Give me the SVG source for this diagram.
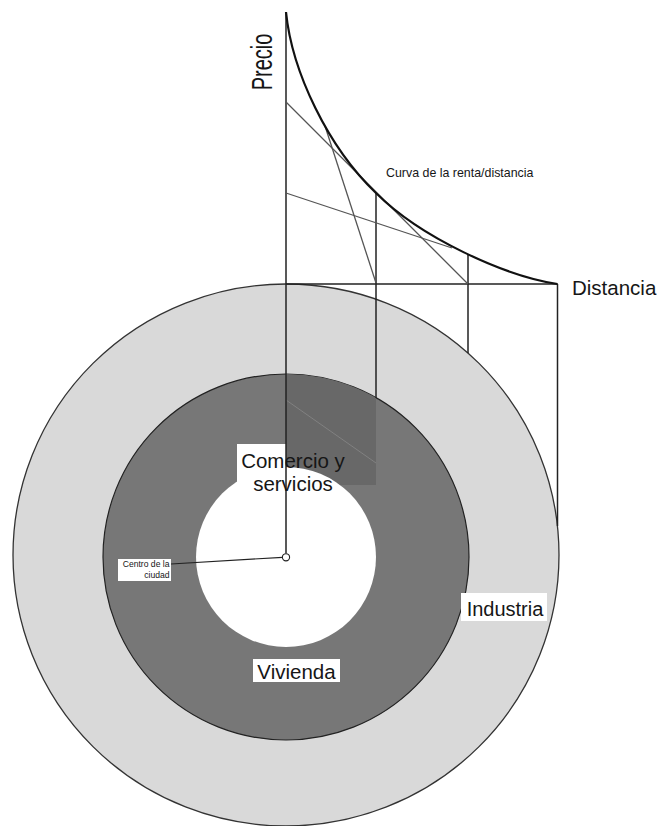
<svg xmlns="http://www.w3.org/2000/svg" width="660" height="826" viewBox="0 0 660 826">
  <style>
    text { font-family: "Liberation Sans", Arial, sans-serif; fill: #161616; }
    .axis { stroke: #222; stroke-width: 1.5; fill: none; }
    .tan { stroke: #555; stroke-width: 1.3; fill: none; }
    .curve { stroke: #111; stroke-width: 2.2; fill: none; }
    .box { fill: #fff; }
  </style>
  <defs>
    <clipPath id="ringClip">
      <circle cx="286" cy="557" r="183"/>
    </clipPath>
  </defs>
  <rect width="660" height="826" fill="#fff"/>

  <!-- concentric land-use zones -->
  <g id="zone-industria">
    <ellipse cx="286" cy="555" rx="273" ry="271" fill="#d9d9d9" stroke="#333" stroke-width="1.3"/>
  </g>
  <g id="zone-vivienda">
    <circle cx="286" cy="557" r="183" fill="#777" stroke="#222" stroke-width="1.2"/>
  </g>
  <rect class="box" x="237" y="444" width="49" height="38"/>
  <g id="sector-shade" clip-path="url(#ringClip)">
    <rect x="286" y="370" width="90" height="115" fill="#686868"/>
    <line x1="286" y1="400" x2="376" y2="463" stroke="#8c8c8c" stroke-width="0.7"/>
  </g>
  <g id="zone-comercio">
    <circle cx="286" cy="557" r="90" fill="#fff"/>
  </g>

  <!-- axes, tangents and projections -->
  <g id="connectors">
    <line class="axis" x1="286" y1="12" x2="286" y2="553.5"/>
    <line class="axis" x1="286" y1="284" x2="557.5" y2="284"/>
    <line class="axis" x1="376" y1="193" x2="376" y2="398"/>
    <line class="axis" x1="468" y1="255" x2="468" y2="353"/>
    <line class="axis" x1="557.5" y1="284" x2="557.5" y2="526"/>
    <line class="tan" x1="286" y1="102" x2="468" y2="284"/>
    <line class="tan" x1="325" y1="126" x2="376" y2="283"/>
    <line class="tan" x1="286" y1="193" x2="452" y2="248"/>
    <line x1="171" y1="564" x2="282.5" y2="557.3" stroke="#222" stroke-width="1.2"/>
  </g>

  <g id="rent-curve">
    <path class="curve" d="M286,12 C292,72 328,147 376,193 C421,238 505,276 557.5,284"/>
  </g>

  <g id="city-centre">
    <circle cx="286" cy="557.3" r="3.6" fill="#fff" stroke="#222" stroke-width="1.1"/>
    <rect class="box" x="118" y="559" width="53" height="22"/>
    <text x="169.5" y="567" font-size="8.6" text-anchor="end">Centro de la</text>
    <text x="169.5" y="577.5" font-size="8.6" text-anchor="end">ciudad</text>
  </g>

  <g id="label-precio">
    <text transform="translate(272,62) rotate(-90) scale(1,1.45)" font-size="20" text-anchor="middle">Precio</text>
  </g>
  <g id="label-distancia">
    <text x="572" y="295" font-size="20.5">Distancia</text>
  </g>
  <g id="label-curva">
    <text x="386" y="177" font-size="12.4">Curva de la renta/distancia</text>
  </g>
  <g id="label-comercio">
    <text x="293" y="467.5" font-size="20.5" text-anchor="middle">Comercio y</text>
    <text x="293" y="490.5" font-size="20.5" text-anchor="middle">servicios</text>
  </g>
  <g id="label-vivienda">
    <rect class="box" x="253" y="659" width="87" height="23"/>
    <text x="296.5" y="679" font-size="20.5" text-anchor="middle">Vivienda</text>
  </g>
  <g id="label-industria">
    <rect class="box" x="461" y="593" width="86" height="28"/>
    <text x="505" y="615.5" font-size="20" text-anchor="middle">Industria</text>
  </g>
</svg>
